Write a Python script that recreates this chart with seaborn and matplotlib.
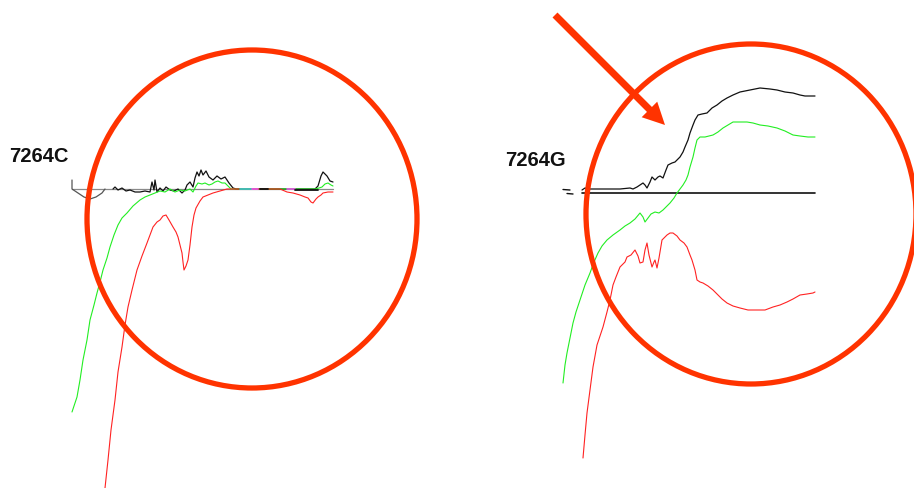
import matplotlib
matplotlib.use("Agg")
import matplotlib.pyplot as plt
from matplotlib.patches import Ellipse, FancyArrow
import numpy as np
import pandas as pd
import seaborn as sns

# ---------------------------------------------------------------------------
# Amplification traces for two primer wells (x: cycle position, y: signal,
# baseline at 0).  Units are the plot's own working units.
# ---------------------------------------------------------------------------

# --- well 7264C ---
c_cup_x = [0, 0, 6, 12, 18, 24, 30, 33]
c_cup_y = [9, 0, -4, -8, -10, -8, -4, 0]

c_black_x = [41, 43, 46, 50, 54, 58, 63, 68, 73, 78, 80, 82, 83, 85, 88, 91, 94,
             98, 102, 106, 110, 113, 115, 118, 121, 123, 125, 127, 129, 131, 134,
             137, 141, 145, 149, 153, 157, 161, 164, 243, 246, 249, 251, 255,
             258, 261]
c_black_y = [0, 2, -1, 1, -2, -1, -3, -3, -2, -3, 7, -1, 9, -3, 1, -2, 2,
             -1, -2, 0, -4, -1, 4, 7, 2, 11, 17, 13, 19, 14, 18,
             12, 9, 13, 10, 12, 6, 1, 0, 0, 3, 13, 17, 13,
             8, 7]

c_green_x = [0, 5, 8, 11, 15, 18, 22, 25, 28, 31, 35, 38, 42, 46, 50, 55, 61,
             68, 73, 78, 83, 88, 93, 98, 103, 108, 113, 118, 121, 124, 126, 130,
             133, 137, 140, 143, 146, 150, 153, 156, 159, 243, 247, 250, 253,
             256, 259, 261]
c_green_y = [-223, -208, -191, -171, -151, -131, -116, -104, -93, -81, -69, -58,
             -46, -36, -29, -24, -17, -11, -8, -6, -4, -2, -3, 0, -3, -1, -2, 0,
             -3, 3, 6, 5, 6, 4, 5, 7, 8, 6, 6, 3, 0, 0, 1, 2, 5, 6, 4, 3]

c_red_x = [33, 36, 39, 43, 46, 50, 53, 56, 60, 65, 70, 75, 78, 81, 85, 88, 91,
           94, 97, 101, 104, 106, 108, 110, 111, 112, 114, 116, 118, 120, 122,
           124, 128, 131, 136, 141, 148, 155, 208, 215, 221, 228, 233, 236,
           239, 241, 244, 246, 249, 251, 256, 261]
c_red_y = [-299, -271, -241, -211, -183, -158, -136, -118, -101, -81, -67, -54,
           -46, -38, -33, -31, -27, -26, -31, -38, -43, -48, -56, -64, -73, -81,
           -77, -71, -56, -38, -26, -19, -12, -8, -6, -4, -2, 0, 0, -3, -4, -6,
           -8, -9, -13, -14, -10, -8, -6, -4, -3, -3]

# short flat replicate segments lying on the 7264C baseline
c_cyan_x = [168, 180]
c_cyan_y = [0, 0]
c_magenta_x = [[180, 186], [215, 223]]
c_magenta_y = [[0, 0], [0, 0]]
c_dark_x = [[188, 196], [223, 246]]
c_dark_y = [[0, 0], [-1, -1]]

c_base_x = [0, 261]
c_base_y = [0, 0]

# --- well 7264G ---
g_base_x = [19, 252]
g_base_y = [0, 0]
g_tick_x = [[0, 7], [4, 10]]
g_tick_y = [[3.5, 3], [-0.5, -1]]

g_black_x = [19, 22, 27, 37, 47, 57, 67, 70, 74, 77, 80, 82, 84, 87, 89, 92, 95,
             97, 100, 103, 105, 109, 112, 115, 117, 120, 122, 125, 127, 130, 132,
             135, 139, 144, 149, 154, 159, 164, 170, 177, 187, 197, 207, 214,
             222, 230, 237, 242, 252]
g_black_y = [3, 5, 4, 4, 4, 4, 5, 4, 6, 8, 10, 8, 5, 11, 16, 13, 16, 17, 15, 23,
             28, 30, 31, 34, 36, 41, 46, 53, 60, 68, 73, 78, 79, 80, 85, 88, 92,
             95, 98, 101, 103, 105, 104, 103, 101, 100, 98, 97, 97]

g_green_x = [0, 2, 4, 7, 10, 13, 17, 22, 27, 31, 35, 39, 44, 50, 57, 62, 67, 72,
             77, 80, 82, 85, 88, 92, 96, 100, 104, 107, 111, 114, 117, 120, 123,
             125, 127, 130, 132, 134, 137, 142, 150, 155, 160, 165, 170, 177,
             184, 190, 197, 205, 214, 222, 230, 237, 245, 252]
g_green_y = [-190, -172, -160, -145, -130, -119, -107, -92, -80, -69, -60, -53,
             -47, -42, -37, -33, -30, -26, -20, -24, -29, -25, -21, -19, -20,
             -17, -13, -10, -5, 0, 4, 8, 13, 18, 26, 36, 45, 53, 56, 56, 58, 61,
             65, 68, 71, 71, 71, 70, 68, 67, 65, 62, 58, 57, 56, 56]

g_red_x = [20, 22, 24, 27, 30, 34, 40, 44, 47, 50, 53, 57, 62, 64, 68, 72, 75,
           77, 80, 82, 84, 86, 89, 91, 92, 94, 96, 99, 102, 104, 107, 110, 114,
           117, 121, 124, 127, 129, 132, 134, 137, 140, 145, 150, 155, 159,
           164, 170, 177, 185, 194, 202, 210, 217, 224, 230, 237, 244, 250, 252]
g_red_y = [-265, -242, -220, -197, -174, -152, -134, -119, -107, -92, -84, -74,
           -69, -64, -62, -57, -63, -70, -69, -57, -50, -62, -74, -69, -67, -75,
           -65, -47, -44, -42, -40, -40, -43, -47, -50, -54, -62, -67, -77, -87,
           -89, -90, -93, -97, -102, -106, -110, -113, -115, -117, -117, -117,
           -114, -112, -109, -106, -102, -101, -100, -99]

GREEN = "#22ee22"
RED = "#ff2222"
BLACK = "#111111"
MARK = "#ff3300"

W, H, DPI = 914, 488, 100
fig = plt.figure(figsize=(W / DPI, H / DPI), dpi=DPI)
sns.set_theme(style="white")
plt.rcParams["font.family"] = ["Liberation Sans", "DejaVu Sans"]


def panel(left_px, right_px, origin_px, baseline_px):
    """Axes whose data units correspond one-to-one with output pixels."""
    ax = fig.add_axes([left_px / W, 0, (right_px - left_px) / W, 1])
    ax.set_xlim(left_px - origin_px, right_px - origin_px)
    ax.set_ylim(baseline_px - H, baseline_px)
    ax.set_axis_off()
    return ax


def trace(ax, xs, ys, color, lw=0.8):
    df = pd.DataFrame({"x": xs, "y": ys})
    sns.lineplot(data=df, x="x", y="y", ax=ax, color=color, linewidth=lw,
                 sort=False, estimator=None, legend=False)


# ---- left panel: 7264C ----
axc = panel(40, 360, 72, 189)
trace(axc, c_base_x, c_base_y, "#8a8a8a", 0.9)
trace(axc, c_cup_x, c_cup_y, "#555555", 0.9)
trace(axc, c_black_x, c_black_y, BLACK, 0.9)
trace(axc, c_green_x, c_green_y, GREEN, 0.8)
trace(axc, c_red_x, c_red_y, RED, 0.8)
trace(axc, c_cyan_x, c_cyan_y, "#33cccc", 1.2)
for xs, ys in zip(c_magenta_x, c_magenta_y):
    trace(axc, xs, ys, "#ee55ee", 1.2)
for xs, ys in zip(c_dark_x, c_dark_y):
    trace(axc, xs, ys, BLACK, 1.3)

# ---- right panel: 7264G ----
axg = panel(540, 840, 563, 193)
trace(axg, g_base_x, g_base_y, BLACK, 1.2)
for xs, ys in zip(g_tick_x, g_tick_y):
    trace(axg, xs, ys, BLACK, 1.0)
trace(axg, g_black_x, g_black_y, BLACK, 0.9)
trace(axg, g_green_x, g_green_y, GREEN, 0.8)
trace(axg, g_red_x, g_red_y, RED, 0.8)

# ---- annotation layer (pixel space) ----
ov = fig.add_axes([0, 0, 1, 1], facecolor="none")
ov.set_xlim(0, W)
ov.set_ylim(H, 0)
ov.set_axis_off()

ov.add_patch(Ellipse((252, 219), 330, 338, fill=False, edgecolor=MARK, lw=3.8))
ov.add_patch(Ellipse((751, 214), 330, 340, fill=False, edgecolor=MARK, lw=3.8))
ov.add_patch(FancyArrow(555, 15, 110, 110, width=7, head_width=22,
                        head_length=22, length_includes_head=True,
                        color=MARK, lw=0))

ov.text(9, 156, "7264C", fontsize=14.5, fontweight="bold", color="#111111",
        ha="left", va="center")
ov.text(505, 161, "7264G", fontsize=14.5, fontweight="bold", color="#111111",
        ha="left", va="center")

fig.savefig("out.png", dpi=DPI)
